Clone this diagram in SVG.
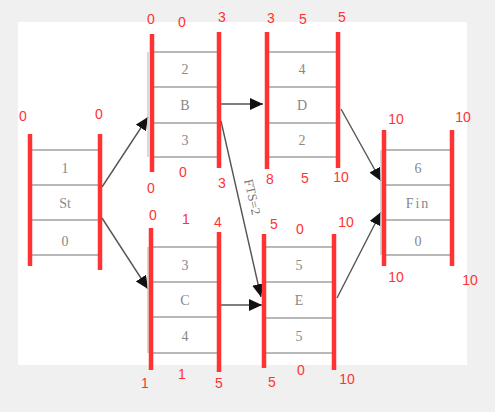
<svg xmlns="http://www.w3.org/2000/svg" width="495" height="412" viewBox="0 0 495 412">
<defs>
<marker id="ah" markerWidth="14" markerHeight="12" refX="13" refY="6" orient="auto" markerUnits="userSpaceOnUse">
<path d="M0,0 L13,6 L0,12 Z" fill="#111"/>
</marker>
</defs>
<style>
.bar{stroke:#ff3333;stroke-width:4.5}
.cell{stroke:#a0a0a0;stroke-width:1.5}
.edge{stroke:#555;stroke-width:1.4;fill:none}
.lbl{font-family:"Liberation Sans",Arial,sans-serif;font-size:14px;fill:#ff3333;text-anchor:middle}
.txt{font-family:"Liberation Serif","Times New Roman",serif;font-size:14px;fill:#888;text-anchor:middle}
</style>
<rect x="0" y="0" width="495" height="412" fill="#f0f0f0"/>
<rect x="18" y="22" width="449" height="343" fill="#ffffff"/>

<g id="connectors">
<line class="edge" x1="102" y1="187" x2="148" y2="117" marker-end="url(#ah)"/>
<line class="edge" x1="102" y1="218" x2="148" y2="289" marker-end="url(#ah)"/>
<line class="edge" x1="221" y1="104" x2="263" y2="104" marker-end="url(#ah)"/>
<line class="edge" x1="221" y1="305" x2="262" y2="305" marker-end="url(#ah)"/>
<line class="edge" x1="221" y1="121" x2="261" y2="297" marker-end="url(#ah)"/>
<line class="edge" x1="341" y1="109" x2="381" y2="181" marker-end="url(#ah)"/>
<line class="edge" x1="337" y1="298" x2="381" y2="212" marker-end="url(#ah)"/>
<text x="252" y="201" transform="rotate(77 252 197)" style="font-family:'Liberation Serif','Times New Roman',serif;font-size:13px;fill:#777;text-anchor:middle">FTS=2</text>
</g>

<g id="node-St">
<line class="cell" x1="29" y1="150" x2="29" y2="255" style="stroke:#ccc"/>
<line class="cell" x1="30" y1="150" x2="100" y2="150"/>
<line class="cell" x1="30" y1="185" x2="100" y2="185"/>
<line class="cell" x1="30" y1="220" x2="100" y2="220"/>
<line class="cell" x1="30" y1="255" x2="100" y2="255"/>
<line class="bar" x1="30" y1="134" x2="30" y2="266"/>
<line class="bar" x1="100" y1="134" x2="100" y2="270"/>
<text class="txt" x="65" y="173">1</text>
<text class="txt" x="65" y="208">St</text>
<text class="txt" x="65" y="246">0</text>
<text class="lbl" x="23" y="121">0</text>
<text class="lbl" x="99" y="119">0</text>
</g>

<g id="node-B">
<line class="cell" x1="148" y1="52" x2="148" y2="157" style="stroke:#ccc"/>
<line class="cell" x1="150" y1="52" x2="219" y2="52"/>
<line class="cell" x1="150" y1="87" x2="219" y2="87"/>
<line class="cell" x1="150" y1="123" x2="219" y2="123"/>
<line class="cell" x1="150" y1="157" x2="219" y2="157"/>
<line class="bar" x1="152" y1="34" x2="152" y2="172"/>
<line class="bar" x1="219" y1="32" x2="219" y2="168"/>
<text class="txt" x="185" y="74">2</text>
<text class="txt" x="185" y="110">B</text>
<text class="txt" x="185" y="145">3</text>
<text class="lbl" x="151" y="24">0</text>
<text class="lbl" x="182" y="27">0</text>
<text class="lbl" x="222" y="22">3</text>
<text class="lbl" x="183" y="177">0</text>
<text class="lbl" x="151" y="193">0</text>
<text class="lbl" x="222" y="188">3</text>
</g>

<g id="node-C">
<line class="cell" x1="148" y1="247" x2="148" y2="353" style="stroke:#ccc"/>
<line class="cell" x1="150" y1="247" x2="219" y2="247"/>
<line class="cell" x1="150" y1="282" x2="219" y2="282"/>
<line class="cell" x1="150" y1="317" x2="219" y2="317"/>
<line class="cell" x1="150" y1="353" x2="219" y2="353"/>
<line class="bar" x1="151" y1="228" x2="151" y2="370"/>
<line class="bar" x1="219" y1="232" x2="219" y2="372"/>
<text class="txt" x="185" y="270">3</text>
<text class="txt" x="185" y="305">C</text>
<text class="txt" x="185" y="341">4</text>
<text class="lbl" x="153" y="220">0</text>
<text class="lbl" x="186" y="224">1</text>
<text class="lbl" x="218" y="227">4</text>
<text class="lbl" x="145" y="388">1</text>
<text class="lbl" x="182" y="379">1</text>
<text class="lbl" x="219" y="388">5</text>
</g>

<g id="node-D">
<line class="cell" x1="267" y1="52" x2="338" y2="52"/>
<line class="cell" x1="267" y1="87" x2="338" y2="87"/>
<line class="cell" x1="267" y1="123" x2="338" y2="123"/>
<line class="cell" x1="267" y1="157" x2="338" y2="157"/>
<line class="bar" x1="267" y1="32" x2="267" y2="169"/>
<line class="bar" x1="338" y1="32" x2="338" y2="168"/>
<text class="txt" x="302" y="74">4</text>
<text class="txt" x="302" y="110">D</text>
<text class="txt" x="302" y="145">2</text>
<text class="lbl" x="271" y="23">3</text>
<text class="lbl" x="303" y="24">5</text>
<text class="lbl" x="342" y="22">5</text>
<text class="lbl" x="270" y="184">8</text>
<text class="lbl" x="305" y="183">5</text>
<text class="lbl" x="341" y="182">10</text>
</g>

<g id="node-E">
<line class="cell" x1="264" y1="247" x2="334" y2="247"/>
<line class="cell" x1="264" y1="282" x2="334" y2="282"/>
<line class="cell" x1="264" y1="318" x2="334" y2="318"/>
<line class="cell" x1="264" y1="353" x2="334" y2="353"/>
<line class="bar" x1="264" y1="234" x2="264" y2="368"/>
<line class="bar" x1="334" y1="234" x2="334" y2="370"/>
<text class="txt" x="299" y="270">5</text>
<text class="txt" x="299" y="305">E</text>
<text class="txt" x="299" y="341">5</text>
<text class="lbl" x="274" y="229">5</text>
<text class="lbl" x="300" y="234">0</text>
<text class="lbl" x="346" y="227">10</text>
<text class="lbl" x="272" y="387">5</text>
<text class="lbl" x="301" y="375">0</text>
<text class="lbl" x="347" y="384">10</text>
</g>

<g id="node-Fin">
<line class="cell" x1="381" y1="150" x2="381" y2="255" style="stroke:#ccc"/>
<line class="cell" x1="384" y1="150" x2="452" y2="150"/>
<line class="cell" x1="384" y1="185" x2="452" y2="185"/>
<line class="cell" x1="384" y1="220" x2="452" y2="220"/>
<line class="cell" x1="384" y1="255" x2="452" y2="255"/>
<line class="bar" x1="384" y1="130" x2="384" y2="266"/>
<line class="bar" x1="452" y1="130" x2="452" y2="266"/>
<text class="txt" x="418" y="173">6</text>
<text class="txt" x="418" y="208" style="letter-spacing:2px">Fin</text>
<text class="txt" x="418" y="246">0</text>
<text class="lbl" x="396" y="124">10</text>
<text class="lbl" x="463" y="122">10</text>
<text class="lbl" x="396" y="282">10</text>
<text class="lbl" x="470" y="285">10</text>
</g>
</svg>
